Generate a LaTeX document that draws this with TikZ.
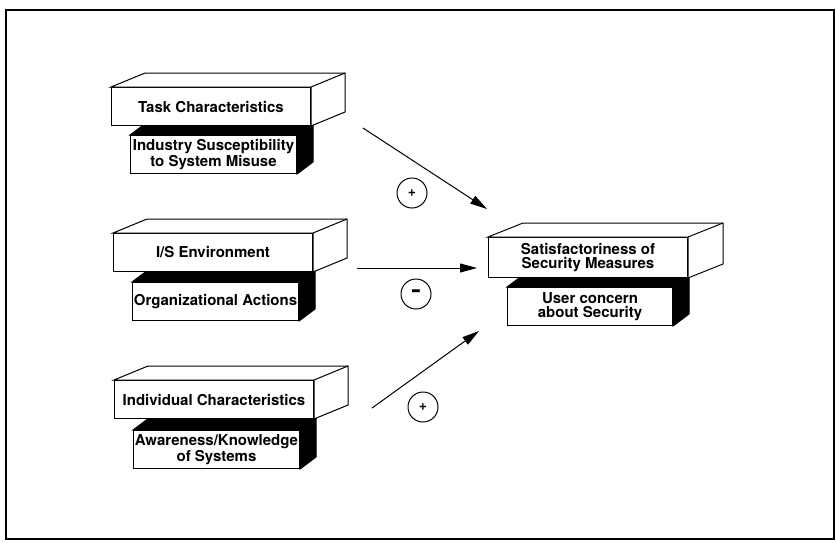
\documentclass[tikz,border=0pt]{standalone}
\usepackage{fontspec}
\setmainfont{TeX Gyre Heros}
\usepackage{tikz}
\usetikzlibrary{arrows.meta}

\begin{document}
\begin{tikzpicture}[x=1pt,y=-1pt,line width=1pt,
    >={Triangle[length=17pt,width=9pt]},
    front/.style={draw,fill=white,inner sep=0pt,minimum width=199pt,
      minimum height=38pt,align=center,
      font=\fontsize{15}{13.5}\selectfont\bfseries},
    lowfront/.style={front,minimum width=166pt},
    sign/.style={draw,circle,inner sep=0pt,minimum size=30pt,
      font=\fontsize{14}{14}\selectfont\bfseries}]
  \useasboundingbox (0,0) rectangle (836,542);
  \draw[line width=1.2pt] (6,10) rectangle (834,539);

  \begin{scope}[shift={(111,87)}]
    \node[lowfront,anchor=north west] (susc) at (19,48) {Industry Susceptibility\\to System Misuse};
    \filldraw (susc.north west) -- ++(16,-12) -- ([shift={(16,-12)}]susc.north east)
      -- ([shift={(16,-12)}]susc.south east) -- (susc.south east) -- (susc.north east) -- cycle;
    \node[front,anchor=north west] (task) at (0,0) {Task Characteristics};
    \filldraw[fill=white] (task.north west) -- ++(34,-14) -- ([shift={(34,-14)}]task.north east)
      -- ([shift={(34,-14)}]task.south east) -- (task.south east) -- (task.north east) -- cycle;
    \draw (task.north east) -- ++(34,-14);
  \end{scope}

  \begin{scope}[shift={(113,233)}]
    \node[lowfront,anchor=north west] (orgact) at (19,49) {Organizational Actions};
    \filldraw (orgact.north west) -- ++(16,-12) -- ([shift={(16,-12)}]orgact.north east)
      -- ([shift={(16,-12)}]orgact.south east) -- (orgact.south east) -- (orgact.north east) -- cycle;
    \node[front,anchor=north west] (env) at (0,0) {I/S Environment};
    \filldraw[fill=white] (env.north west) -- ++(34,-14) -- ([shift={(34,-14)}]env.north east)
      -- ([shift={(34,-14)}]env.south east) -- (env.south east) -- (env.north east) -- cycle;
    \draw (env.north east) -- ++(34,-14);
  \end{scope}

  \begin{scope}[shift={(114,380)}]
    \node[lowfront,anchor=north west] (aware) at (19,50) {Awareness/Knowledge\\of Systems};
    \filldraw (aware.north west) -- ++(16,-12) -- ([shift={(16,-12)}]aware.north east)
      -- ([shift={(16,-12)}]aware.south east) -- (aware.south east) -- (aware.north east) -- cycle;
    \node[front,anchor=north west] (indiv) at (0,0) {Individual Characteristics};
    \filldraw[fill=white] (indiv.north west) -- ++(34,-14) -- ([shift={(34,-14)}]indiv.north east)
      -- ([shift={(34,-14)}]indiv.south east) -- (indiv.south east) -- (indiv.north east) -- cycle;
    \draw (indiv.north east) -- ++(34,-14);
  \end{scope}

  \begin{scope}[shift={(488,237)}]
    \node[lowfront,anchor=north west,minimum width=165pt] (concern) at (19,50) {User concern\\about Security};
    \filldraw (concern.north west) -- ++(16,-12) -- ([shift={(16,-12)}]concern.north east)
      -- ([shift={(16,-12)}]concern.south east) -- (concern.south east) -- (concern.north east) -- cycle;
    \node[front,anchor=north west,minimum height=40pt] (satis) at (0,0) {Satisfactoriness of\\Security Measures};
    \filldraw[fill=white] (satis.north west) -- ++(35,-14) -- ([shift={(35,-14)}]satis.north east)
      -- ([shift={(35,-14)}]satis.south east) -- (satis.south east) -- (satis.north east) -- cycle;
    \draw (satis.north east) -- ++(35,-14);
  \end{scope}

  \coordinate (fromtask) at (363,128);
  \coordinate (totask) at (487,209);
  \coordinate (fromenv) at (357,268);
  \coordinate (toenv) at (477,268);
  \coordinate (fromindiv) at (372,408);
  \coordinate (toindiv) at (479,331);
  \draw[->] (fromtask) -- (totask);
  \draw[->] (fromenv) -- (toenv);
  \draw[->] (fromindiv) -- (toindiv);

  \node[sign] (plustask) at (412,193) {+};
  \node[sign] (minusenv) at (416,294) {\raisebox{-2pt}{\scalebox{1}[2]{--}}};
  \node[sign] (plusindiv) at (423,407) {+};
\end{tikzpicture}
\end{document}
